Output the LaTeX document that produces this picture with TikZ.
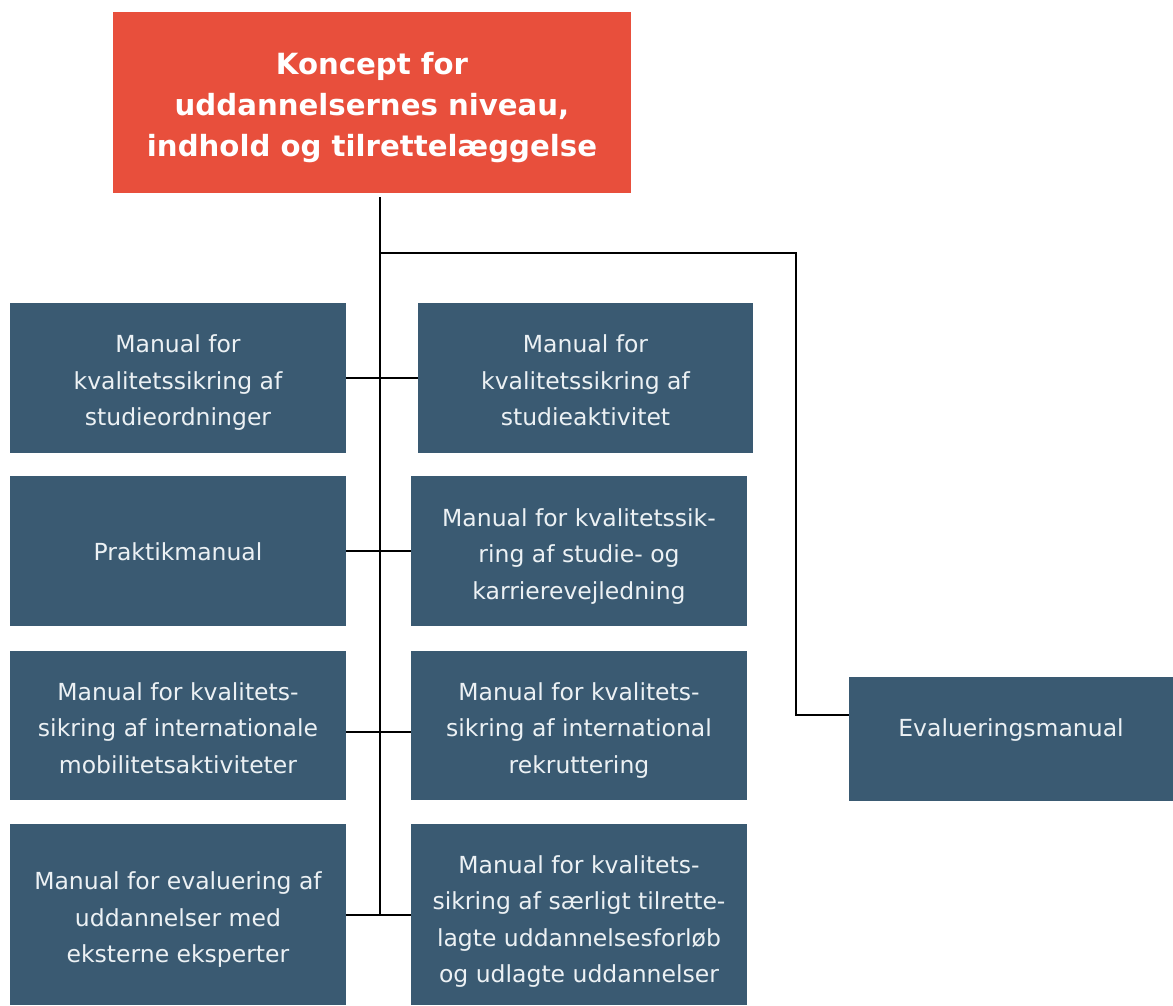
\documentclass[tikz,border=0pt]{standalone}
\usepackage{fontspec}
\newfontfamily\bodyfont{DejaVu Sans}
\definecolor{topred}{RGB}{232,79,60}
\definecolor{boxblue}{RGB}{58,90,114}
\definecolor{boxtext}{RGB}{236,241,244}
\newcommand{\mlines}[2][33.5pt]{\begin{tabular}{@{}c@{}}\rule{0pt}{#1}#2\end{tabular}}
\begin{document}
\begin{tikzpicture}[x=1pt,y=-1pt]
\tikzset{
  topbox/.style={fill=topred,text=white,font=\bodyfont\bfseries\fontsize{29.2}{41}\selectfont,align=center,inner sep=0pt,minimum width=518pt,minimum height=181pt},
  mbox/.style={fill=boxblue,text=boxtext,font=\bodyfont\fontsize{23.5}{36.5}\selectfont,inner sep=0pt,minimum width=336pt,minimum height=150pt},
  conn/.style={draw=black,line width=2.4pt}
}
\useasboundingbox (0,0) rectangle (1173,1005);
\node[topbox] (top) at (372,102.5) {\rule{0pt}{37.5pt}Koncept for\\uddannelsernes niveau,\\indhold og tilrettelæggelse\strut};
\node[mbox] (L1) at (178,378) {\mlines{Manual for\\kvalitetssikring af\\studieordninger}};
\node[mbox,minimum width=335pt] (R1) at (585.5,378) {\mlines{Manual for\\kvalitetssikring af\\studieaktivitet}};
\node[mbox] (L2) at (178,551) {\rule{0pt}{29.5pt}Praktikmanual\strut};
\node[mbox] (R2) at (579,551) {\mlines[34.5pt]{Manual for kvalitetssik-\\ring af studie- og\\karrierevejledning}};
\node[mbox,minimum height=149pt] (L3) at (178,725.5) {\mlines{Manual for kvalitets-\\sikring af internationale\\mobilitetsaktiviteter}};
\node[mbox,minimum height=149pt] (R3) at (579,725.5) {\mlines{Manual for kvalitets-\\sikring af international\\rekruttering}};
\node[mbox,minimum height=181pt] (L4) at (178,914.5) {\mlines[34.5pt]{Manual for evaluering af\\uddannelser med\\eksterne eksperter}};
\node[mbox,minimum height=181pt] (R4) at (579,914.5) {\mlines[37.5pt]{Manual for kvalitets-\\sikring af særligt tilrette-\\lagte uddannelsesforløb\\og udlagte uddannelser}};
\node[mbox,minimum width=324pt,minimum height=124pt] (E) at (1011,739) {\strut\raisebox{12pt}{Evalueringsmanual}};
\coordinate (spine) at (380,0);
\coordinate (jn) at (380,253);
\coordinate (bend) at (796,253);
\draw[conn] ([yshift=-4pt]top.south -| spine) -- ([yshift=-0.5pt]L4.east -| spine);
\draw[conn] (L1.east) -- (R1.west);
\draw[conn] (L2.east) -- (R2.west);
\draw[conn] ([yshift=-6.5pt]L3.east) -- ([yshift=-6.5pt]R3.west);
\draw[conn] ([yshift=-0.5pt]L4.east) -- ([yshift=-0.5pt]R4.west);
\draw[conn] (jn) -- (bend) |- ([yshift=24pt]E.west);
\end{tikzpicture}
\end{document}
